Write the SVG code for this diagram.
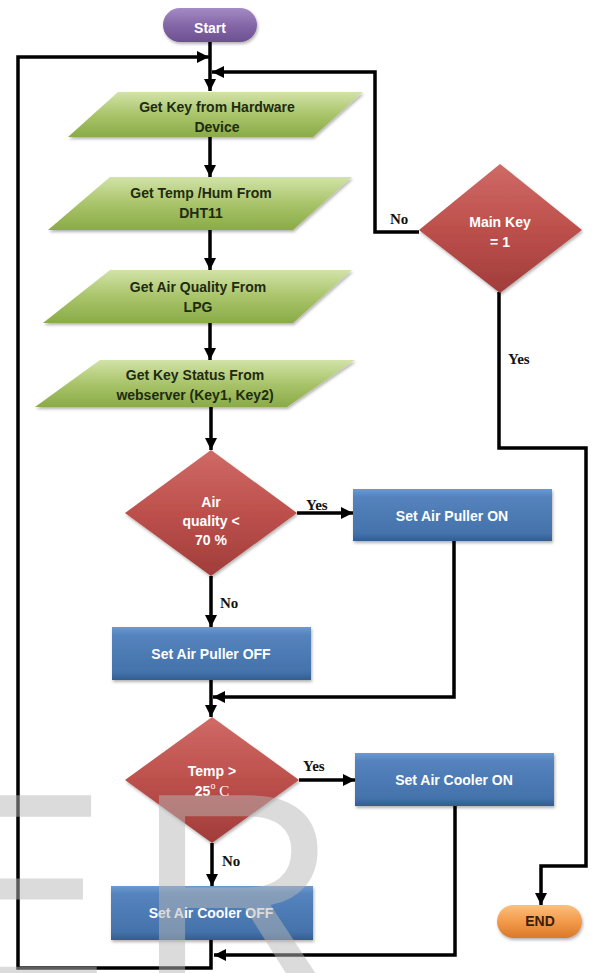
<svg xmlns="http://www.w3.org/2000/svg" width="592" height="973" viewBox="0 0 592 973">
<style>
.lbl{font-family:"Liberation Sans",Arial,sans-serif;font-weight:bold;font-size:14px;text-anchor:middle}
.w{fill:#ffffff}
.g{fill:#1f2b10}
.yn{font-family:"Liberation Serif","Times New Roman",serif;font-weight:bold;font-size:15px;fill:#111}
.ln{fill:none;stroke:#000;stroke-width:3.5;stroke-linejoin:miter}
.arr{marker-end:url(#ah)}
.wm{font-family:"Liberation Sans",Arial,sans-serif;font-size:280px;fill:#b8b8b8;opacity:0.5}
</style>
<defs>
<marker id="ah" markerUnits="userSpaceOnUse" markerWidth="12" markerHeight="12" viewBox="0 0 12 12" refX="12" refY="6" orient="auto">
<path d="M0,0 L12,6 L0,12 z" fill="#000"/>
</marker>
<linearGradient id="gGreen" x1="0" y1="0" x2="0" y2="1">
<stop offset="0" stop-color="#d2e3a8"/><stop offset="0.5" stop-color="#a9c46a"/><stop offset="1" stop-color="#8aab47"/>
</linearGradient>
<linearGradient id="gRed" x1="0" y1="0" x2="0" y2="1">
<stop offset="0" stop-color="#cf6a66"/><stop offset="0.5" stop-color="#bd504c"/><stop offset="1" stop-color="#a03d3a"/>
</linearGradient>
<linearGradient id="gBlue" x1="0" y1="0" x2="0" y2="1">
<stop offset="0" stop-color="#6b9ad0"/><stop offset="0.15" stop-color="#5583bd"/><stop offset="0.85" stop-color="#4472ab"/><stop offset="1" stop-color="#345d90"/>
</linearGradient>
<linearGradient id="gPurple" x1="0" y1="0" x2="0" y2="1">
<stop offset="0" stop-color="#a48bc4"/><stop offset="0.5" stop-color="#8567a8"/><stop offset="1" stop-color="#6c5090"/>
</linearGradient>
<linearGradient id="gOrange" x1="0" y1="0" x2="0" y2="1">
<stop offset="0" stop-color="#fbc07f"/><stop offset="0.5" stop-color="#f39a4a"/><stop offset="1" stop-color="#d9782a"/>
</linearGradient>
<filter id="sh" x="-10%" y="-10%" width="130%" height="140%">
<feDropShadow dx="1" dy="2" stdDeviation="1.5" flood-color="#000" flood-opacity="0.3"/>
</filter>
</defs>
<rect width="592" height="973" fill="#fff"/>

<g id="connectors">
<path class="ln arr" d="M210,42 V91"/>
<path class="ln arr" d="M211,940 V968 H18 V57 H209"/>
<path class="ln arr" d="M419,232 H375 V72 H212"/>
<path class="ln arr" d="M210,137 V177"/>
<path class="ln arr" d="M210,230 V270"/>
<path class="ln arr" d="M210,323 V360"/>
<path class="ln arr" d="M211,407 V450"/>
<path class="ln arr" d="M297,513 H353"/>
<path class="ln arr" d="M211,576 V627"/>
<path class="ln arr" d="M454,541 V697 H213"/>
<path class="ln arr" d="M211,680 V717"/>
<path class="ln arr" d="M299,780 H355"/>
<path class="ln arr" d="M212,843 V886"/>
<path class="ln arr" d="M455,806 V955 H214"/>
<path class="ln arr" d="M499,292 V448 H586 V866 H541 V905"/>
<text class="yn" x="390" y="224">No</text>
<text class="yn" x="508" y="364">Yes</text>
<text class="yn" x="306" y="510">Yes</text>
<text class="yn" x="220" y="608">No</text>
<text class="yn" x="303" y="771">Yes</text>
<text class="yn" x="222" y="866">No</text>
</g>

<g id="start">
<rect x="163" y="8" width="94" height="34" rx="17" fill="url(#gPurple)" filter="url(#sh)"/>
<text class="lbl w" x="210" y="33">Start</text>
</g>

<g id="get-key">
<polygon points="118,92 363,92 313,137 68,137" fill="url(#gGreen)" filter="url(#sh)"/>
<text class="lbl g" x="217" y="112">Get Key from Hardware</text>
<text class="lbl g" x="217" y="132">Device</text>
</g>

<g id="get-temp">
<polygon points="110,177 352,177 293,230 48,230" fill="url(#gGreen)" filter="url(#sh)"/>
<text class="lbl g" x="201" y="198">Get Temp /Hum From</text>
<text class="lbl g" x="201" y="218">DHT11</text>
</g>

<g id="get-air">
<polygon points="110,270 352,270 293,323 43,323" fill="url(#gGreen)" filter="url(#sh)"/>
<text class="lbl g" x="198" y="292">Get Air Quality From</text>
<text class="lbl g" x="198" y="312">LPG</text>
</g>

<g id="get-status">
<polygon points="100,360 355,360 287,407 35,407" fill="url(#gGreen)" filter="url(#sh)"/>
<text class="lbl g" x="195" y="380">Get Key Status From</text>
<text class="lbl g" x="195" y="400">webserver (Key1, Key2)</text>
</g>

<g id="main-key">
<polygon points="500,164 582,230 500,293 419,230" fill="url(#gRed)" filter="url(#sh)"/>
<text class="lbl w" x="500" y="227">Main Key</text>
<text class="lbl w" x="500" y="247">= 1</text>
</g>

<g id="air-quality">
<polygon points="211,450 297,513 211,576 125,513" fill="url(#gRed)" filter="url(#sh)"/>
<text class="lbl w" x="211" y="507">Air</text>
<text class="lbl w" x="211" y="526">quality &lt;</text>
<text class="lbl w" x="211" y="545">70 %</text>
</g>

<g id="puller-on">
<rect x="353" y="489" width="199" height="52" fill="url(#gBlue)" filter="url(#sh)"/>
<text class="lbl w" x="452" y="521">Set Air Puller ON</text>
</g>

<g id="puller-off">
<rect x="112" y="627" width="199" height="53" fill="url(#gBlue)" filter="url(#sh)"/>
<text class="lbl w" x="211" y="659">Set Air Puller OFF</text>
</g>

<g id="temp">
<polygon points="212,717 299,780 212,843 125,780" fill="url(#gRed)" filter="url(#sh)"/>
<text class="lbl w" x="212" y="776">Temp &gt;</text>
<text class="lbl w" x="212" y="796">25<tspan font-family="'Liberation Serif',serif" font-weight="normal" font-size="10" dy="-7">o</tspan><tspan font-family="'Liberation Serif',serif" font-weight="normal" font-size="15" dy="7"> C</tspan></text>
</g>

<g id="cooler-on">
<rect x="355" y="753" width="199" height="53" fill="url(#gBlue)" filter="url(#sh)"/>
<text class="lbl w" x="454" y="785">Set Air Cooler ON</text>
</g>

<g id="cooler-off">
<rect x="111" y="886" width="202" height="54" fill="url(#gBlue)" filter="url(#sh)"/>
<text class="lbl w" x="211" y="918">Set Air Cooler OFF</text>
</g>

<g id="end">
<rect x="497" y="905" width="85" height="33" rx="16.5" fill="url(#gOrange)" filter="url(#sh)"/>
<text class="lbl" x="540" y="926" fill="#3a1e05" font-size="13">END</text>
</g>

<g id="watermark">
<text class="wm" x="-78" y="988">E</text>
<text class="wm" x="136" y="988">R</text>
</g>
</svg>
